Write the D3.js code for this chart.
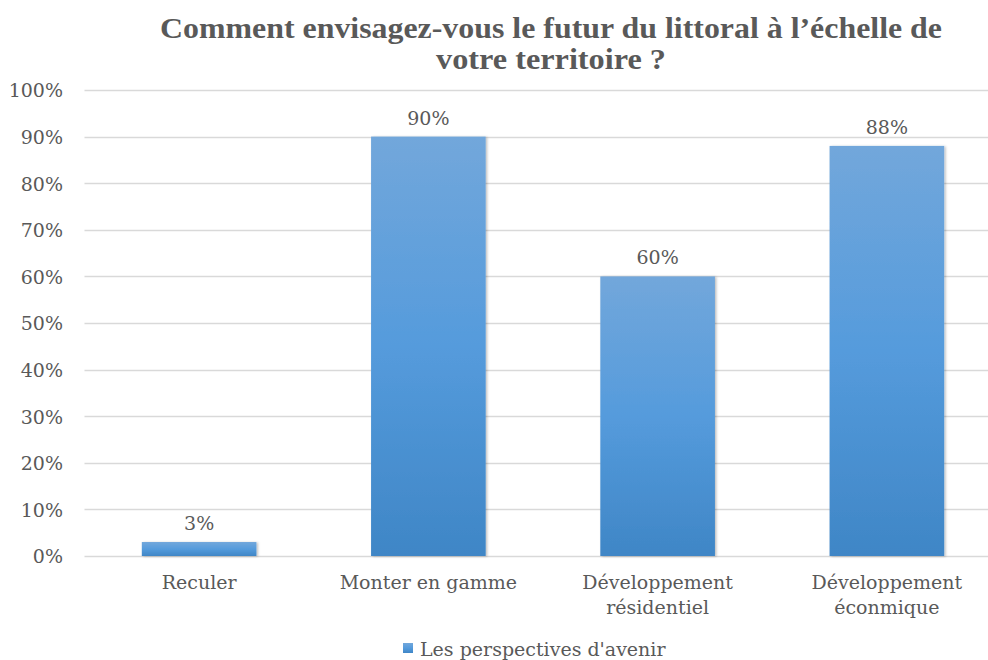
<!DOCTYPE html>
<html>
<head>
<meta charset="utf-8">
<script src="https://cdn.jsdelivr.net/npm/d3@7"></script>
<style>
  html, body { margin: 0; padding: 0; background: #fff; }
  svg { display: block; }
  text { font-family: "DejaVu Serif", "Liberation Serif", serif; fill: #595959; }
</style>
</head>
<body>
<svg id="chart" width="988" height="660"></svg>
<script>
// Survey answers: share of respondents per outlook
const categories = ["Reculer", "Monter en gamme", "Développement résidentiel", "Développement éconmique"];
const categoryLines = [["Reculer"], ["Monter en gamme"], ["Développement", "résidentiel"], ["Développement", "éconmique"]];
const values = [0.03, 0.90, 0.60, 0.88];
const yTicks = [0, 0.1, 0.2, 0.3, 0.4, 0.5, 0.6, 0.7, 0.8, 0.9, 1.0];
const seriesName = "Les perspectives d'avenir";
const titleLines = ["Comment envisagez-vous le futur du littoral à l’échelle de", "votre territoire ?"];

const W = 988, H = 660;
const plot = { left: 84.5, right: 1001.5, top: 90, bottom: 556 };

const svg = d3.select("#chart");

// Bar gradient and soft shadow
const defs = svg.append("defs");
const grad = defs.append("linearGradient")
  .attr("id", "barFill").attr("x1", 0).attr("y1", 0).attr("x2", 0).attr("y2", 1);
grad.append("stop").attr("offset", "0%").attr("stop-color", "#72a7db");
grad.append("stop").attr("offset", "50%").attr("stop-color", "#559bdc");
grad.append("stop").attr("offset", "100%").attr("stop-color", "#3f86c6");
const shadow = defs.append("filter").attr("id", "barShadow")
  .attr("x", "-10%").attr("y", "-10%").attr("width", "130%").attr("height", "130%");
shadow.append("feDropShadow").attr("dx", 1.5).attr("dy", 0.5).attr("stdDeviation", 1)
  .attr("flood-color", "#000").attr("flood-opacity", 0.25);

const x = d3.scaleBand().domain(categories)
  .range([plot.left, plot.right]).paddingInner(0.5).paddingOuter(0.25);
const y = d3.scaleLinear().domain([0, 1]).range([plot.bottom, plot.top]);

// Horizontal gridlines
svg.append("g")
  .selectAll("line").data(yTicks).join("line")
  .attr("x1", plot.left).attr("x2", W)
  .attr("y1", d => Math.round(y(d)) + 0.5).attr("y2", d => Math.round(y(d)) + 0.5)
  .attr("stroke", "#d9d9d9").attr("stroke-width", 1.3);

// Y axis labels
const yAxis = d3.axisLeft(y).tickValues(yTicks).tickFormat(d3.format(".0%")).tickSize(0).tickPadding(0);
const yg = svg.append("g").attr("transform", `translate(63,0)`).call(yAxis);
yg.select(".domain").remove();
yg.selectAll("text").attr("font-size", 19).attr("dy", "0.36em")
  .style("font-family", '"DejaVu Serif", serif').attr("fill", "#595959");

// Bars
svg.append("g").selectAll("rect").data(values).join("rect")
  .attr("x", (d, i) => x(categories[i]))
  .attr("y", d => y(d))
  .attr("width", x.bandwidth())
  .attr("height", d => y(0) - y(d))
  .attr("fill", "url(#barFill)")
  .attr("filter", "url(#barShadow)");

// Value labels
svg.append("g").selectAll("text").data(values).join("text")
  .attr("x", (d, i) => x(categories[i]) + x.bandwidth() / 2)
  .attr("y", d => y(d) - 12)
  .attr("text-anchor", "middle")
  .attr("font-size", 19)
  .text(d => d3.format(".0%")(d));

// Category labels
const cg = svg.append("g").selectAll("text").data(categoryLines).join("text")
  .attr("text-anchor", "middle")
  .attr("font-size", 19);
cg.each(function(lines, i) {
  const cx = x(categories[i]) + x.bandwidth() / 2;
  d3.select(this).selectAll("tspan").data(lines).join("tspan")
    .attr("x", cx).attr("y", (l, j) => 589 + j * 25).text(l => l);
});

// Title
svg.append("g").selectAll("text").data(titleLines).join("text")
  .attr("x", 551).attr("y", (d, i) => 38 + i * 31)
  .attr("text-anchor", "middle")
  .style("font-family", '"Liberation Serif", serif')
  .attr("font-size", 29).attr("font-weight", "bold")
  .attr("textLength", (d, i) => i === 0 ? 782 : 230)
  .attr("lengthAdjust", "spacingAndGlyphs")
  .text(d => d);

// Legend
const lg = svg.append("g");
lg.append("rect").attr("x", 403).attr("y", 643).attr("width", 10).attr("height", 10)
  .attr("fill", "url(#barFill)");
lg.append("text").attr("x", 420).attr("y", 656).attr("font-size", 19).text(seriesName);
</script>
</body>
</html>
